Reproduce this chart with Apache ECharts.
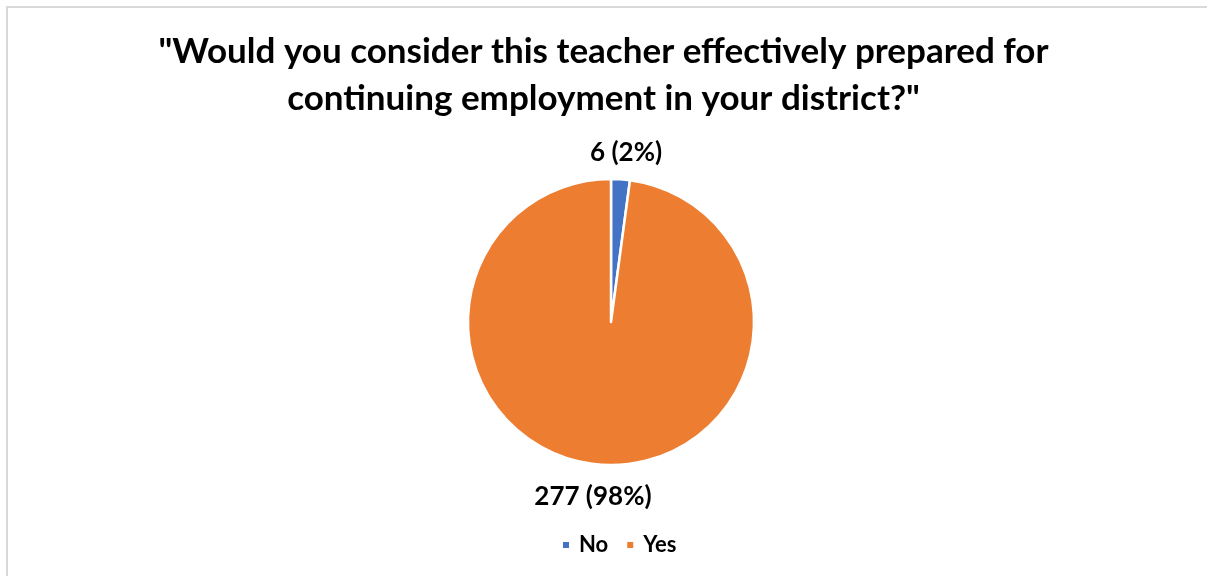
<!DOCTYPE html>
<html>
<head>
<meta charset="utf-8">
<script src="https://cdn.jsdelivr.net/npm/echarts@6/dist/echarts.min.js"></script>
<style>
  html, body { margin: 0; padding: 0; background: #fff; }
  #chart { width: 1207px; height: 576px; }
</style>
</head>
<body>
<div id="chart"></div>
<script>
// data
var categories = ['No', 'Yes'];
var counts = [6, 277];
var sliceColors = ['#4472C4', '#ED7D31'];
var titleText = '"Would you consider this teacher effectively prepared for\ncontinuing employment in your district?"';

// nudges that move the data labels to where Excel put them
var labelShift = {
    No: { dx: 0, dy: -19 },
    Yes: { dx: -3, dy: 24 }
};

var chart = echarts.init(document.getElementById('chart'));

var pieData = categories.map(function (name, i) {
    return { name: name, value: counts[i], itemStyle: { color: sliceColors[i] } };
});

var option = {
    backgroundColor: '#fff',
    title: {
        text: titleText,
        left: 'center',
        top: 23,
        textStyle: {
            fontFamily: 'Lato',
            fontWeight: 'bold',
            fontSize: 35,
            lineHeight: 47,
            color: '#000'
        }
    },
    legend: {
        data: categories,
        bottom: 15,
        left: 556,
        icon: 'rect',
        itemWidth: 8,
        itemHeight: 8,
        itemGap: 17,
        textStyle: {
            fontFamily: 'Lato',
            fontWeight: 'bold',
            fontSize: 22,
            color: '#000',
            padding: [0, 0, 0, 4]
        }
    },
    graphic: [{
        type: 'rect',
        shape: { x: 7, y: 7, width: 1300, height: 700 },
        style: { fill: 'none', stroke: '#d9d9d9', lineWidth: 2 },
        silent: true
    }],
    series: [{
        type: 'pie',
        center: [611, 322],
        radius: 143,
        startAngle: 90,
        clockwise: true,
        percentPrecision: 0,
        avoidLabelOverlap: false,
        itemStyle: { borderColor: '#fff', borderWidth: 2.5 },
        label: {
            show: true,
            position: 'outside',
            formatter: '{c} ({d}%)',
            fontFamily: 'Lato',
            fontWeight: 'bold',
            fontSize: 26,
            color: '#000'
        },
        labelLine: { show: false, length: 8, length2: 0 },
        labelLayout: function (params) {
            var s = labelShift[categories[params.dataIndex]];
            return { align: 'center', dx: s.dx, dy: s.dy };
        },
        data: pieData
    }]
};

chart.setOption(option);
</script>
</body>
</html>
